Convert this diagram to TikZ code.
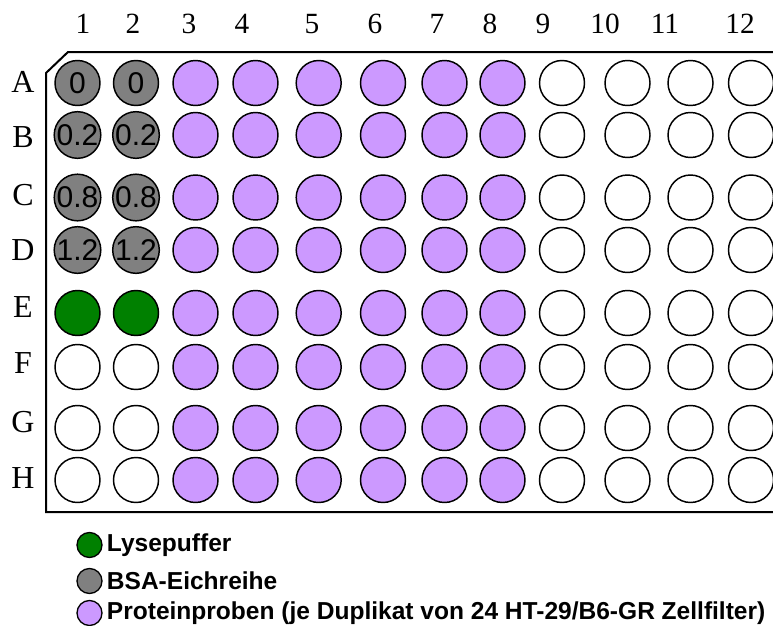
\documentclass[tikz,border=0pt]{standalone}
\usepackage{fontspec}
\setmainfont{Liberation Serif}
\newfontfamily\lgfont{Liberation Sans}
\usetikzlibrary{positioning}
\definecolor{bsagray}{HTML}{808080}
\definecolor{lysegreen}{HTML}{008000}
\definecolor{protlila}{HTML}{CC99FF}
\tikzset{
  well/.style={circle, draw=black, line width=1.1pt, minimum size=33.75pt,
               inner sep=0pt, fill=white, font=\lgfont\fontsize{22.5}{22.5}\selectfont},
  ewell/.style={well},
  gwell/.style={well, fill=bsagray},
  lwell/.style={well, fill=lysegreen},
  pwell/.style={well, fill=protlila},
  lgdot/.style={circle, draw=black, line width=1pt, minimum size=18.75pt, inner sep=0pt},
  lgtxt/.style={anchor=west, inner sep=0pt, font=\lgfont\bfseries\fontsize{18.4}{20}\selectfont},
  collbl/.style={inner sep=0pt, font=\fontsize{22}{22}\selectfont},
  rowlbl/.style={inner sep=0pt, font=\fontsize{24}{24}\selectfont},
}
\begin{document}
\begin{tikzpicture}[x=0.75pt, y=-0.75pt]
\useasboundingbox (0,0) rectangle (773,625);
% plate outline
\draw[line width=1.5pt] (773,52) -- (68,52) -- (46,73) -- (46,512) -- (773,512);
% column and row labels
\foreach \c/\x in {1/83,2/133,3/189,4/242,5/312,6/375,7/437,8/490,9/543,10/605,11/665,12/740}
  \node[collbl] (col\c) at (\x,24) {\c};
\foreach \r/\y in {A/82,B/137,C/195,D/250,E/307,F/363,G/422,H/478}
  \node[rowlbl] (row\r) at (23,\y) {\r};
% standards and lysis buffer
\foreach \c/\x in {1/77.5,2/136}
  \foreach \r/\y/\s/\t in {A/83/gwell/0,B/135/gwell/0.2,C/197.5/gwell/0.8,D/250/gwell/1.2,
                           E/313/lwell/{},F/367/ewell/{},G/428/ewell/{},H/480/ewell/{}}
    \node[\s] (\r\c) at (\x,\y) {\t};
% samples
\foreach \c/\x in {3/195.5,4/255.5,5/318.7,6/383,7/444.5,8/502.5}
  \foreach \r/\y in {A/83,B/135,C/197.5,D/250,E/313,F/367,G/428,H/480}
    \node[pwell] (\r\c) at (\x,\y) {};
% empty wells
\foreach \c/\x in {9/562,10/627.5,11/690.5,12/751}
  \foreach \r/\y in {A/83,B/135,C/197.5,D/250,E/313,F/367,G/428,H/480}
    \node[ewell] (\r\c) at (\x,\y) {};
% legend
\node[lgdot, fill=lysegreen] (lg1) at (89.5,545) {};
\node[lgdot, fill=bsagray] (lg2) at (89.5,581) {};
\node[lgdot, fill=protlila] (lg3) at (89.5,613) {};
\node[lgtxt, right=3pt of lg1] (lgt1) {Lysepuffer};
\node[lgtxt, right=3pt of lg2] (lgt2) {BSA-Eichreihe};
\node[lgtxt, right=3pt of lg3] (lgt3) {Proteinproben (je Duplikat von 24 HT-29/B6-GR Zellfilter)};
\end{tikzpicture}
\end{document}
